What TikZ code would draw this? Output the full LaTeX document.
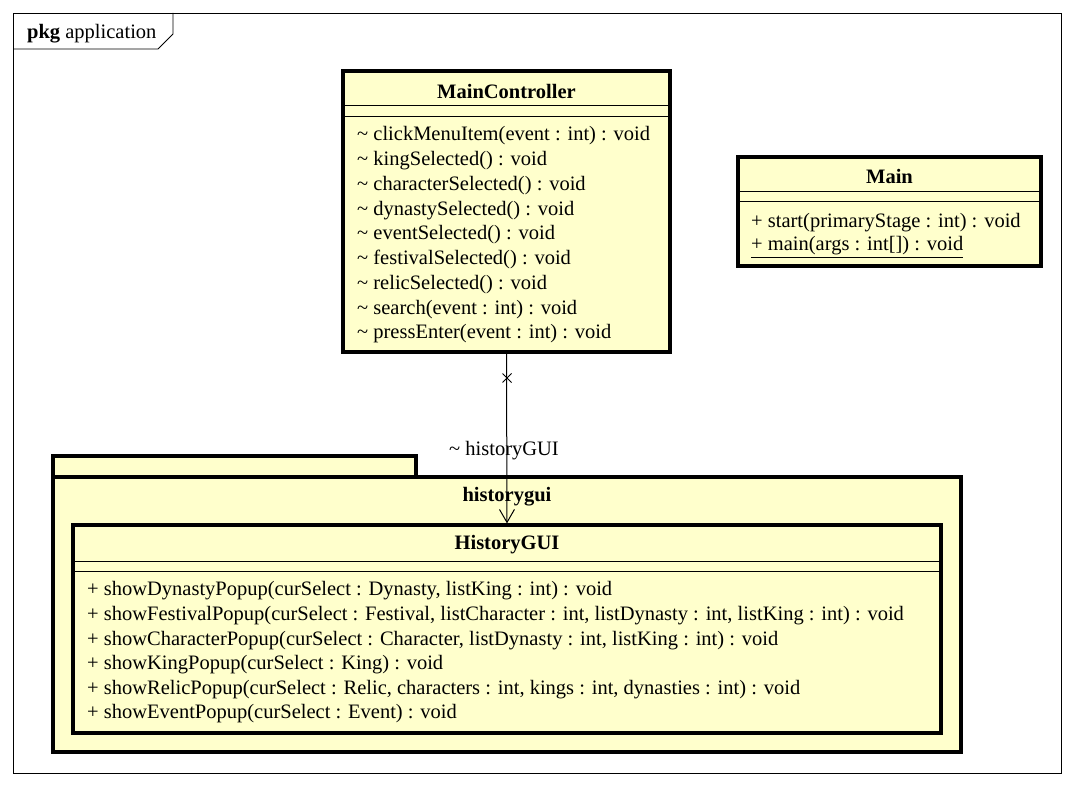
\documentclass[tikz,border=0pt]{standalone}
\usepackage{fontspec}
\setmainfont{Liberation Serif}
\usepackage{tikz}
\usetikzlibrary{arrows.meta}
\definecolor{umlfill}{HTML}{FFFFCC}
\tikzset{
	classbox/.style={draw,line width=3.2pt,fill=umlfill,inner sep=0pt},
	pkgbox/.style={draw,line width=3.2pt,fill=umlfill},
	sepline/.style={line width=1pt},
	op/.style={anchor=west,inner sep=0pt},
	cname/.style={font=\fontsize{20.5}{24}\selectfont\bfseries,inner sep=0pt}
}

\begin{document}
\begin{tikzpicture}[x=1pt,y=-1pt,font=\fontsize{20.5}{24}\selectfont]
\useasboundingbox[fill=white] (0,0) rectangle (1074,786);
% frame
\draw[line width=0.9pt] (13,13) rectangle (1061,773);
\draw[line width=0.9pt] (13,49) -- (158,49) -- (173,34) -- (173,13);
\node[anchor=west,inner sep=0pt] (pkg) at (27,34) {\textbf{pkg} application};
%
\node[classbox,minimum width=327pt,minimum height=281pt] (mc) at (506.5,211.5) {};
\node[cname] (mcname) at (506.5,91) {MainController};
\draw[sepline] (343,106) -- (670,106);
\draw[sepline] (343,117) -- (670,117);
\foreach \t [count=\i from 0] in {
	{\textasciitilde{} clickMenuItem(event : int) : void},
	{\textasciitilde{} kingSelected() : void},
	{\textasciitilde{} characterSelected() : void},
	{\textasciitilde{} dynastySelected() : void},
	{\textasciitilde{} eventSelected() : void},
	{\textasciitilde{} festivalSelected() : void},
	{\textasciitilde{} relicSelected() : void},
	{\textasciitilde{} search(event : int) : void},
	{\textasciitilde{} pressEnter(event : int) : void}}
	\node[op] (mcop\i) at (357,136+\i*24.75) {\t};
%
\node[classbox,minimum width=303pt,minimum height=109pt] (mn) at (889.5,211.5) {};
\node[cname] (mnname) at (889.5,176) {Main};
\draw[sepline] (738,192) -- (1041,192);
\draw[sepline] (738,202) -- (1041,202);
\node[op] (mnop0) at (751,222.5) {+ start(primaryStage : int) : void};
\node[op] (mnop1) at (751,247) {\underline{+ main(args : int[]) : void}};
%
\draw[pkgbox] (53,456) rectangle (416,477);
\draw[pkgbox] (53,477) rectangle (961,752);
\node[cname] (hgpkg) at (507,497) {historygui};
%
\node[classbox,minimum width=868pt,minimum height=208pt] (hg) at (507,629) {};
\node[cname] (hgname) at (507,545) {HistoryGUI};
\draw[sepline] (73,561) -- (941,561);
\draw[sepline] (73,571) -- (941,571);
\foreach \t [count=\i from 0] in {
	{+ showDynastyPopup(curSelect : Dynasty, listKing : int) : void},
	{+ showFestivalPopup(curSelect : Festival, listCharacter : int, listDynasty : int, listKing : int) : void},
	{+ showCharacterPopup(curSelect : Character, listDynasty : int, listKing : int) : void},
	{+ showKingPopup(curSelect : King) : void},
	{+ showRelicPopup(curSelect : Relic, characters : int, kings : int, dynasties : int) : void},
	{+ showEventPopup(curSelect : Event) : void}}
	\node[op] (hgop\i) at (87,591+\i*24.6) {\t};
%
\draw[line width=1pt,-{Straight Barb[length=13pt,width=15pt]}] (mc.south) -- (hg.north);
\coordinate (xm) at (507,378);
\draw[line width=1pt] (xm) +(-4.5,-4.5) -- +(4.5,4.5) (xm) +(-4.5,4.5) -- +(4.5,-4.5);
\node[anchor=east,inner sep=0pt] (role) at (559,451) {\textasciitilde{} historyGUI};
\end{tikzpicture}
\end{document}
